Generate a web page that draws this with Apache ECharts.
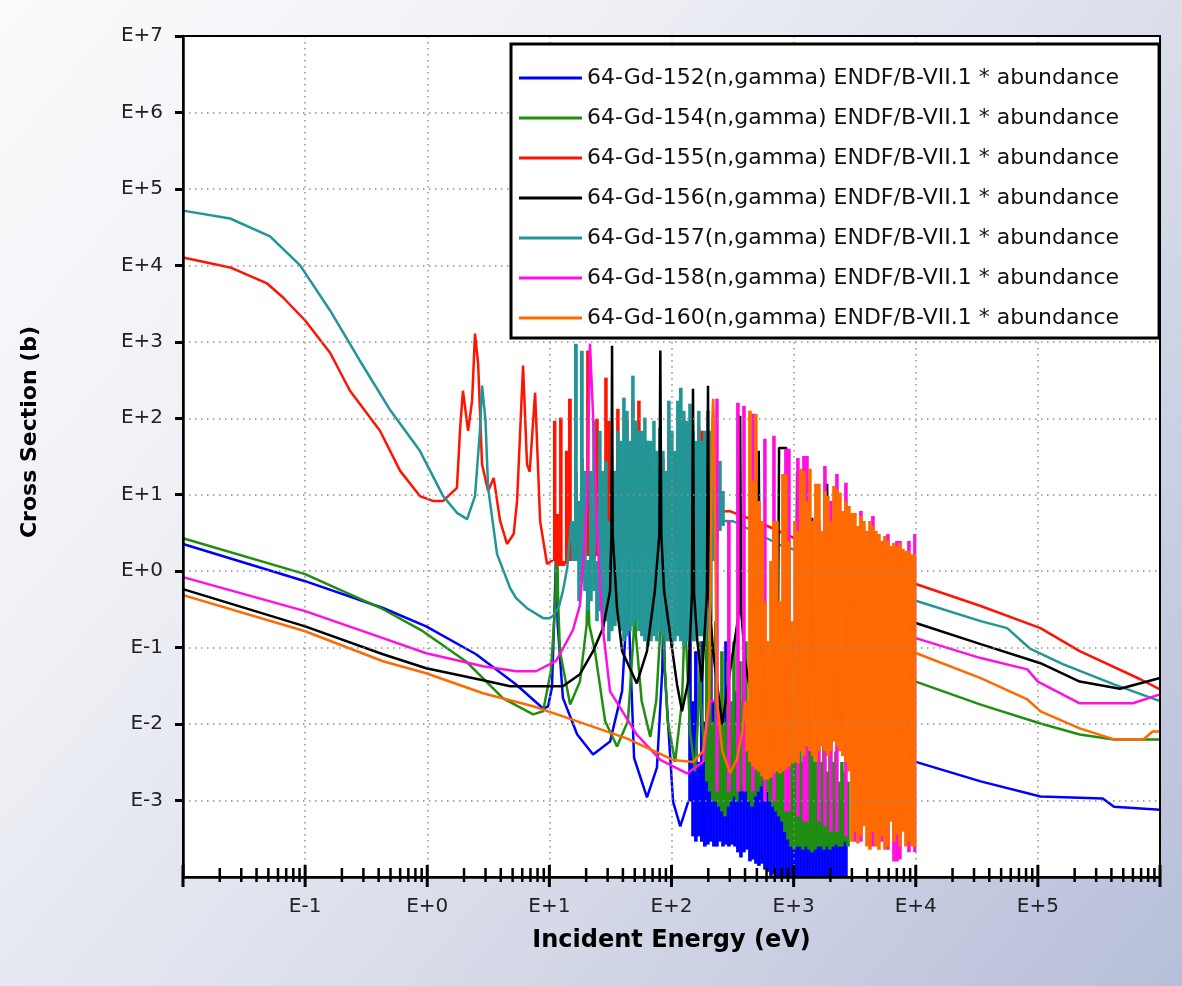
<!DOCTYPE html>
<html>
<head>
<meta charset="utf-8">
<script src="https://cdn.jsdelivr.net/npm/echarts@6/dist/echarts.min.js"></script>
<style>
html,body{margin:0;padding:0;}
#chart{width:1182px;height:986px;}
</style>
</head>
<body>
<div id="chart"></div>
<script>
// ---------------- data ----------------
// lines: [energy (eV), cross section (b)]
// resonance bands (too dense to resolve): [energy where the column starts (eV), top (b), bottom (b)];
// each column runs to the next entry's energy, null = no column
const seriesNames = [
  '64-Gd-152(n,gamma) ENDF/B-VII.1 * abundance',
  '64-Gd-154(n,gamma) ENDF/B-VII.1 * abundance',
  '64-Gd-155(n,gamma) ENDF/B-VII.1 * abundance',
  '64-Gd-156(n,gamma) ENDF/B-VII.1 * abundance',
  '64-Gd-157(n,gamma) ENDF/B-VII.1 * abundance',
  '64-Gd-158(n,gamma) ENDF/B-VII.1 * abundance',
  '64-Gd-160(n,gamma) ENDF/B-VII.1 * abundance'
];

// Gd-152
const gd152Low = [[0.01,2.27],[0.1,0.74],[0.434,0.33],[0.98,0.19],[2.51,0.082],[5.34,0.033],[8.88,0.016],[9.75,0.017],[10.5,0.03],[11.0,0.3],[11.3,1.4],[11.7,0.2],[12.9,0.022],[16.9,0.0073],[22.8,0.004],[31.4,0.0059],[39.4,0.027],[43,0.3],[44,1.4],[45,0.2],[49.4,0.0036],[63,0.0011],[76,0.0027],[84,0.05],[86,0.4],[88,0.05],[103,0.00097],[118,0.00046],[137,0.00097]];
const gd152Band = [[137,0.222,0.00097],[145,0.0199,0.00034],[153,0.0897,0.00029],[162,0.0032,0.00034],[171,0.121,0.00029],[181,0.0108,0.00025],[192,0.0363,0.000265],[203,0.121,0.00029],[215,0.0199,0.00025],[228,0.0108,0.00025],[241,0.0199,0.00029],[255,0.0032,0.00025],[270,0.121,0.000265],[285,0.0199,0.00025],[302,0.0059,0.000265],[320,0.0268,0.00025],[338,0.0199,0.00021],[358,0.00177,0.00018],[379,0.0664,0.00021],[401,0.0199,0.000228],[424,0.0032,0.00016],[449,0.0199,0.000169],[475,0.0108,0.000149],[502,0.00177,0.00014],[532,0.0363,0.000149],[563,0.0108,0.000125],[595,0.00131,0.000117],[630,0.0199,0.0001],[667,0.0059,0.00011],[706,0.0032,0.000092],[746,0.0199,0.00009],[790,0.0032,0.000092],[836,0.0059,0.00009],[885,0.0032,0.00009],[936,0.00177,0.00009],[991,0.0059,0.00009],[1048,0.00131,0.00009],[1109,0.0032,0.00009],[1174,0.00177,0.00009],[1242,0.0044,0.00009],[1315,0.00097,0.00009],[1391,0.0032,0.00009],[1472,0.00131,0.00009],[1558,0.0024,0.00009],[1648,0.00097,0.00009],[1744,0.00177,0.00009],[1846,0.00097,0.00009],[1953,0.00131,0.00009],[2067,0.00083,0.00009],[2187,0.00131,0.00009],[2314,0.00097,0.00009],[2449,0.00097,0.00009],[2592,0.00083,0.00009],[2743,null,null]];
const gd152High = [[10000,0.0032],[34000,0.00178],[105000,0.00113],[340000,0.00106],[420000,0.00083],[1000000,0.00076]];

// Gd-154
const gd154Low = [[0.01,2.7],[0.1,0.916],[0.434,0.318],[0.92,0.164],[2.08,0.066],[4.18,0.0217],[7.36,0.0134],[8.88,0.0147],[10.3,0.05],[11.2,0.4],[11.5,5],[11.8,0.4],[12.2,0.09],[14.8,0.018],[17.8,0.036],[20.2,0.2],[20.7,1.4],[21.2,0.2],[23.6,0.09],[28.6,0.011],[35.8,0.0051],[44,0.011],[49,0.15],[50,1.4],[51,0.15],[57,0.02],[67,0.0068],[75,0.02],[81.5,0.2],[83,2.5],[84.5,0.2],[93,0.011],[107,0.0032],[122,0.02],[127,0.15],[129,1.4],[131,0.15],[142,0.008],[156,0.0024],[168,0.02],[171,0.12],[174,0.02],[188,0.0032]];
const gd154Band = [[188,0.405,0.00177],[199,0.121,0.00131],[211,0.0108,0.00097],[223,0.222,0.00097],[236,0.0199,0.00083],[250,0.0897,0.00072],[265,0.0108,0.00062],[280,0.0664,0.00083],[296,0.0199,0.00097],[314,0.121,0.00113],[332,0.0108,0.00097],[351,0.0664,0.00131],[372,0.0199,0.00153],[393,0.121,0.00131],[416,0.0108,0.00097],[440,0.0664,0.00083],[466,0.0199,0.00113],[493,0.0897,0.00131],[522,0.0108,0.00153],[552,0.121,0.00177],[584,0.0199,0.00131],[618,0.0664,0.00097],[654,0.0108,0.00083],[692,0.0897,0.00072],[732,0.0199,0.00062],[776,0.0363,0.00053],[820,0.0108,0.00039],[868,0.0268,0.00031],[918,0.0059,0.00025],[973,0.0199,0.000228],[1030,0.0059,0.00025],[1089,0.0147,0.00025],[1152,0.0032,0.000228],[1219,0.0108,0.00025],[1290,0.0059,0.000228],[1365,0.0108,0.00021],[1445,0.0032,0.000228],[1530,0.008,0.00025],[1618,0.0032,0.00025],[1711,0.0059,0.000228],[1811,0.0024,0.00025],[1918,0.0059,0.000228],[2028,0.0032,0.00025],[2147,0.0044,0.000265],[2271,0.00177,0.00025],[2404,0.0032,0.00025],[2543,0.0024,0.00029],[2691,0.00177,0.00025],[2850,null,null]];
const gd154High = [[10000,0.036],[34000,0.018],[105000,0.0102],[220000,0.0073],[420000,0.0063],[1000000,0.0063]];

// Gd-155
const gd155Low = [[0.01,12700],[0.0243,9400],[0.0488,5800],[0.066,3800],[0.1,1900],[0.16,720],[0.233,229],[0.41,68.6],[0.6,20.5],[0.87,9.6],[1.11,8.3],[1.35,8.3],[1.75,12.3],[1.86,75],[1.96,229],[2.16,68.6],[2.33,170],[2.46,1280],[2.61,518],[2.81,25],[3.15,11.2],[3.5,16.6],[3.95,4.54],[4.5,2.27],[5.1,3.06],[5.44,8.3],[6.09,488],[6.56,25],[6.9,20],[7.64,216],[8.4,4.5],[9.57,1.24],[10.4,1.36],[10.7,1.36]];
const gd155Band = [[10.7,92.7,1.36],[11.3,5.6,1.17],[12.0,102,1.17],[12.7,1.36,1.17],[13.4,37.5,1.24],[14.2,180,1.36],[15.1,2.13,1.36],[15.9,20.5,1.58],[16.9,2.13,1.58],[17.8,30.3,1.83],[18.9,3.36,1.83],[20.0,767,1.58],[21.1,4.54,1.58],[22.4,1.83,1.36],[23.7,98.5,1.58],[25.1,2.48,1.58],[26.5,15.2,1.83],[28.1,340,2.13],[29.7,92.7,1.83],[31.4,20.5,1.83],[33.2,2.48,1.58],[35.2,133,1.83],[37.2,20.5,2.13],[39.4,2.48,1.83],[41.7,98.5,2.13],[44.1,8.29,1.83],[46.7,170,2.13],[49.4,92.7,2.48],[52.3,170,2.13],[55.3,37.5,1.83],[58.5,2.48,1.83],[61.9,50.7,2.13],[65.5,20.5,1.83],[69.4,2.48,1.83],[73.4,20.5,2.13],[77.7,2.48,1.83],[82.2,30.3,2.13],[87.0,2.48,1.83],[92.0,68.6,2.13],[97.4,37.5,1.83],[103,2.48,1.83],[109,50.7,2.13],[115,15.2,1.83],[122,92.7,2.13],[129,84.7,1.83],[137,2.48,1.83],[145,50.7,2.13],[153,3.36,2.13],[162,75.1,2.48],[171,68.6,2.48],[181,4.54,2.89],[192,null,null]];
const gd155High = [[192,4.54],[207,6],[300,6.1],[532,4.3],[1130,2.5],[2900,1.58],[10000,0.68],[34000,0.35],[105000,0.18],[220000,0.09],[690000,0.0386],[1000000,0.0285]];

// Gd-156
const gd156 = [[0.01,0.582],[0.1,0.19],[0.434,0.082],[0.98,0.0537],[2.86,0.0374],[4.77,0.0312],[12.9,0.0312],[17.8,0.045],[22.8,0.09],[27.5,0.18],[31.4,0.55],[32.2,3],[32.6,890],[33.0,3],[35.8,0.33],[39.4,0.09],[52,0.034],[63,0.09],[73,0.55],[79.5,3],[81,770],[82.5,3],[87,0.55],[111,0.033],[122,0.0147],[137,0.036],[147,0.5],[150,244],[153,0.5],[163,0.12],[177,0.036],[195,0.5],[199,267],[203,0.5],[219,0.09],[260,0.0099],[310,0.066],[358,0.3],[365,108],[372,0.3],[401,0.066],[457,0.02],[508,0.3],[518,37.5],[528,0.3],[575,0.0108],[643,0.0051],[745,0.2],[760,41],[815,41],[870,41],[890,0.3],[936,0.02],[1050,0.3],[1069,20],[1090,0.3],[1175,0.0108],[1291,0.0037],[1390,0.1],[1419,5],[1450,0.1],[1600,0.02],[1840,0.2],[1880,13.9],[1920,0.2],[2040,0.008],[2150,0.2],[2190,10],[2230,0.2],[2400,0.0059],[2900,0.4],[10000,0.21],[34000,0.111],[105000,0.0625],[220000,0.036],[470000,0.029],[1000000,0.04]];

// Gd-157
const gd157Low = [[0.01,52000],[0.0243,41000],[0.0516,24000],[0.091,10000],[0.16,2570],[0.28,570],[0.5,126],[0.87,37.5],[1.35,9.6],[1.75,5.8],[2.12,4.8],[2.46,9.6],[2.7,68.6],[2.81,267],[3.0,93],[3.15,12.3],[3.73,1.67],[4.77,0.6],[5.34,0.444],[6.56,0.328],[8.9,0.243],[10,0.243],[10.7,0.258],[12.0,0.349],[12.9,0.548],[14.0,1.1],[15.1,4.54]];
const gd157Band = [[15.1,4.54,1.36],[15.9,946,1.36],[16.9,8.29,0.405],[17.8,767,0.742],[18.9,20.5,0.548],[20.0,1.36,0.3],[21.1,20.5,0.405],[22.4,92.7,0.548],[23.7,1.36,0.222],[25.1,68.6,0.3],[26.5,20.5,0.164],[28.1,27.7,0.222],[29.7,4.54,0.121],[31.4,8.29,0.164],[33.2,20.5,0.191],[35.2,68.6,0.222],[37.2,50.7,0.164],[39.4,186,0.121],[41.7,125,0.141],[44.1,50.7,0.164],[46.7,361,0.191],[49.4,92.7,0.222],[52.3,68.6,0.164],[55.3,68.6,0.141],[58.5,102,0.121],[61.9,50.7,0.104],[65.5,50.7,0.121],[69.4,92.7,0.141],[73.4,37.5,0.121],[77.7,75.1,0.164],[82.2,37.5,0.141],[87.0,20.5,0.121],[92.0,170,0.121],[97.4,68.6,0.104],[103,37.5,0.121],[109,170,0.141],[115,251,0.121],[122,125,0.104],[129,92.7,0.121],[137,155,0.141],[145,68.6,0.121],[153,50.7,0.121],[162,125,0.141],[171,50.7,0.141],[181,68.6,0.121],[192,125,0.164],[203,68.6,0.222],[215,27.7,1.36],[228,20.5,2.48],[241,27.7,3.36],[255,11.2,3.9],[270,null,null]];
const gd157High = [[270,4.54],[320,4.5],[776,2.2],[1130,1.8],[10000,0.41],[34000,0.222],[56000,0.18],[87000,0.096],[160000,0.061],[420000,0.033],[1000000,0.02]];

// Gd-158
const gd158Low = [[0.01,0.837],[0.1,0.3],[0.434,0.133],[0.98,0.0845],[2.86,0.057],[5.34,0.0491],[7.78,0.0491],[11.3,0.0664],[12.2,0.082],[15.6,0.17],[17.8,0.36],[18.9,1.24],[20.4,9.1],[21.5,946],[23.6,30],[24.6,3.36],[27,0.222],[31.4,0.0268],[52,0.0073],[81,0.0034],[134,0.00226],[181,0.0032],[207,0.0199],[228,0.02]];
const gd158Band = [[228,180,0.00131],[241,null,null],[285,4.54,0.00131],[302,null,null],[338,160,0.00131],[358,null,null],[379,146,0.00131],[401,null,null],[449,115,0.00131],[475,null,null],[563,53.9,0.00097],[595,null,null],[667,59,0.00097],[706,null,null],[836,39.8,0.00072],[885,39.8,0.00072],[936,null,null],[1048,30.3,0.00062],[1109,null,null],[1174,32.2,0.00053],[1242,32.2,0.00053],[1315,null,null],[1558,4.54,0.00053],[1648,null,null],[1744,23.8,0.00046],[1846,null,null],[1953,8.29,0.00039],[2067,null,null],[2187,18.7,0.00039],[2314,null,null],[2592,14.3,0.00034],[2743,null,null],[3071,3.36,0.00029],[3250,null,null],[3439,6.13,0.00029],[3639,null,null],[4075,3.36,0.00025],[4312,5.27,0.00025],[4563,null,null],[5110,2.48,0.00029],[5408,null,null],[5722,3.06,0.000228],[6055,null,null],[6408,2.13,0.00016],[6781,2.48,0.00016],[7176,2.48,0.000169],[7593,null,null],[8503,2.48,0.00021],[8998,null,null],[9521,3.06,0.00021],[10000,null,null]];
const gd158High = [[10000,0.133],[34000,0.073],[82000,0.052],[100000,0.036],[220000,0.0187],[600000,0.0187],[1000000,0.0245]];

// Gd-160
const gd160Low = [[0.01,0.486],[0.1,0.164],[0.434,0.0664],[0.98,0.0462],[2.86,0.0253],[7.36,0.0171],[12.9,0.0126],[43,0.0065],[103,0.0034],[150,0.0032],[181,0.0044],[203,0.02],[216,100],[219,180],[222,100],[236,0.02],[260,0.0045],[302,0.0023],[344,0.0035],[380,0.008],[401,0.0199]];
const gd160Band = [[401,0.0199,0.0044],[424,125,0.0032],[449,15.2,0.0028],[475,115,0.00255],[502,8.29,0.0024],[532,4.54,0.00207],[563,0.405,0.00188],[595,0.121,0.00188],[630,1.36,0.002],[667,4.54,0.00226],[706,4.54,0.0024],[746,0.405,0.00226],[790,18.7,0.0024],[836,18.7,0.00255],[885,2.48,0.0028],[936,0.222,0.00305],[991,4.54,0.0032],[1048,3.36,0.00305],[1109,21.8,0.0044],[1174,20.5,0.0038],[1242,8.29,0.0051],[1315,21.8,0.0044],[1391,4.54,0.0038],[1472,13.9,0.0032],[1558,13.9,0.0044],[1648,3.36,0.0051],[1744,11.2,0.0044],[1846,9.64,0.0038],[1953,4.54,0.0044],[2067,13.0,0.0059],[2187,11.9,0.0051],[2314,10.6,0.0044],[2449,6.13,0.0038],[2592,8.29,0.0032],[2743,7.13,0.0024],[2902,5.77,0.00029],[3071,5.77,0.00039],[3250,3.9,0.000274],[3439,5.27,0.00034],[3639,4.54,0.00046],[3851,3.36,0.00025],[4075,4.54,0.000228],[4312,3.9,0.00039],[4563,3.36,0.00025],[4829,3.06,0.000228],[5110,2.48,0.00034],[5408,2.89,0.000228],[5722,2.48,0.00025],[6055,2.13,0.00053],[6408,2.33,0.00029],[6781,2.13,0.00036],[7176,2.33,0.00025],[7593,1.95,0.00039],[8035,1.83,0.00025],[8503,1.83,0.00029],[8998,1.67,0.00025],[9521,1.67,0.00025],[10000,null,null]];
const gd160High = [[10000,0.085],[34000,0.04],[82000,0.021],[105000,0.0147],[220000,0.0088],[420000,0.0063],[730000,0.0063],[870000,0.008],[1000000,0.008]];

const xRange = [0.01, 1e6];
const yRange = [1e-4, 1e7];
const xAxisTitle = 'Incident Energy (eV)';
const yAxisTitle = 'Cross Section (b)';

// ---------------- styles ----------------
const colors = ['#0000ff', '#1f8f0f', '#ff1400', '#000000', '#229696', '#ff10e0', '#ff6a00'];
// [isotope index, data, kind]  (drawing order, bottom to top)
const parts = [
  [0, gd152Low, 'line'], [0, gd152Band, 'band'], [0, gd152High, 'line'],
  [1, gd154Low, 'line'], [1, gd154Band, 'band'], [1, gd154High, 'line'],
  [2, gd155Low, 'line'], [2, gd155Band, 'band'], [2, gd155High, 'line'],
  [4, gd157Low, 'line'], [4, gd157Band, 'band'], [4, gd157High, 'line'],
  [3, gd156, 'line'],
  [5, gd158Low, 'line'], [5, gd158Band, 'band'], [5, gd158High, 'line'],
  [6, gd160Low, 'line'], [6, gd160Band, 'band'], [6, gd160High, 'line']
];
const FONT = 'DejaVu Sans';

function expLabel(v) {
  const e = Math.round(Math.log10(v));
  return 'E' + (e >= 0 ? '+' : '-') + Math.abs(e);
}

function bandRenderer(arr, color) {
  return function (params, api) {
    const cur = arr[params.dataIndex];
    const next = arr[params.dataIndex + 1];
    if (!next || cur[1] == null || cur[2] == null) return null;
    const pTop = api.coord([cur[0], cur[1]]);
    const pBot = api.coord([next[0], cur[2]]);
    return {
      type: 'rect',
      shape: {x: pTop[0], y: pTop[1], width: pBot[0] - pTop[0] + 0.6, height: pBot[1] - pTop[1]},
      style: {fill: color}
    };
  };
}

const chart = echarts.init(document.getElementById('chart'), null, {renderer: 'canvas'});

const series = parts.map(([i, d, kind], k) => {
  const zOrder = 3 + k;
  if (kind === 'band') {
    return {
      name: seriesNames[i],
      type: 'custom',
      z: zOrder,
      data: d.map(r => [r[0], r[1] == null ? 1 : r[1], r[2] == null ? 1 : r[2]]),
      encode: {x: 0, y: 1},
      renderItem: bandRenderer(d, colors[i]),
      itemStyle: {color: colors[i]},
      clip: true,
      silent: true,
      animation: false
    };
  }
  return {
    name: seriesNames[i],
    type: 'line',
    z: zOrder,
    data: d,
    symbol: 'none',
    showSymbol: false,
    clip: true,
    lineStyle: {color: colors[i], width: 2.5},
    itemStyle: {color: colors[i]},
    emphasis: {disabled: true},
    silent: true,
    animation: false
  };
});

chart.setOption({
  animation: false,
  backgroundColor: new echarts.graphic.LinearGradient(0, 0, 1, 1, [
    {offset: 0, color: '#fafbfc'},
    {offset: 0.3, color: '#eef0f5'},
    {offset: 0.62, color: '#d8dce9'},
    {offset: 1, color: '#b7bed9'}
  ]),
  grid: {
    left: 183, right: 22, top: 36, bottom: 109,
    show: true, backgroundColor: '#ffffff', borderColor: '#000', borderWidth: 2
  },
  legend: {
    data: seriesNames,
    orient: 'vertical',
    left: 511, top: 44,
    padding: [22, 40, 8, 8],
    itemGap: 16,
    itemWidth: 63,
    itemHeight: 3,
    icon: 'rect',
    textStyle: {fontFamily: FONT, fontSize: 22, color: '#111', lineHeight: 24},
    backgroundColor: '#ffffff',
    borderColor: '#000',
    borderWidth: 3,
    selectedMode: false,
    z: 100
  },
  xAxis: {
    type: 'log', logBase: 10,
    min: xRange[0], max: xRange[1],
    interval: 1,
    name: xAxisTitle,
    nameLocation: 'middle',
    nameGap: 52,
    nameTextStyle: {fontFamily: FONT, fontSize: 24, fontWeight: 'bold', color: '#000'},
    axisLine: {show: true, onZero: false, lineStyle: {color: '#000', width: 2.5}},
    axisTick: {show: false},
    axisLabel: {
      fontFamily: FONT, fontSize: 20, color: '#222', margin: 20,
      showMinLabel: false, showMaxLabel: false,
      formatter: expLabel
    },
    splitLine: {show: true, lineStyle: {color: '#909090', width: 1.5, type: [1.5, 4.5]}},
    z: 50
  },
  yAxis: {
    type: 'log', logBase: 10,
    min: yRange[0], max: yRange[1],
    interval: 1,
    axisLine: {show: true, onZero: false, lineStyle: {color: '#000', width: 2.5}},
    axisTick: {show: true, inside: false, length: 8, lineStyle: {color: '#000', width: 3}},
    axisLabel: {
      fontFamily: FONT, fontSize: 20, color: '#222', margin: 20,
      showMinLabel: false,
      formatter: expLabel
    },
    splitLine: {show: true, lineStyle: {color: '#909090', width: 1.5, type: [1.5, 4.5]}},
    z: 50
  },
  series: series
});

// x-axis ticks (major + minor), positioned through the axis scale; plot frame on top
const gfx = [];
const yBottom = chart.convertToPixel({yAxisIndex: 0}, yRange[0]);
const yTop = chart.convertToPixel({yAxisIndex: 0}, yRange[1]);
const xLeft = chart.convertToPixel({xAxisIndex: 0}, xRange[0]);
const xRight = chart.convertToPixel({xAxisIndex: 0}, xRange[1]);
for (let k = -2; k <= 6; k++) {
  for (let m = 1; m <= 9; m++) {
    const v = m * Math.pow(10, k);
    if (v < xRange[0] || v > xRange[1] * 1.0001) continue;
    const px = chart.convertToPixel({xAxisIndex: 0}, v);
    const major = (m === 1);
    gfx.push({
      type: 'line', silent: true, z: 60,
      shape: {x1: px, y1: yBottom - (major ? 12 : 9), x2: px, y2: yBottom + (major ? 10 : 5)},
      style: {stroke: '#000', lineWidth: major ? 3 : 2.5}
    });
  }
}
gfx.push({
  type: 'rect', silent: true, z: 55,
  shape: {x: xLeft, y: yTop, width: xRight - xLeft, height: yBottom - yTop},
  style: {fill: null, stroke: '#000', lineWidth: 2}
});
gfx.push({
  type: 'text', silent: true, z: 60,
  x: 30, y: 432, rotation: Math.PI / 2,
  style: {text: yAxisTitle, font: 'bold 22px "DejaVu Sans"', fill: '#000', align: 'center', verticalAlign: 'middle'}
});
chart.setOption({graphic: gfx});
</script>
</body>
</html>
